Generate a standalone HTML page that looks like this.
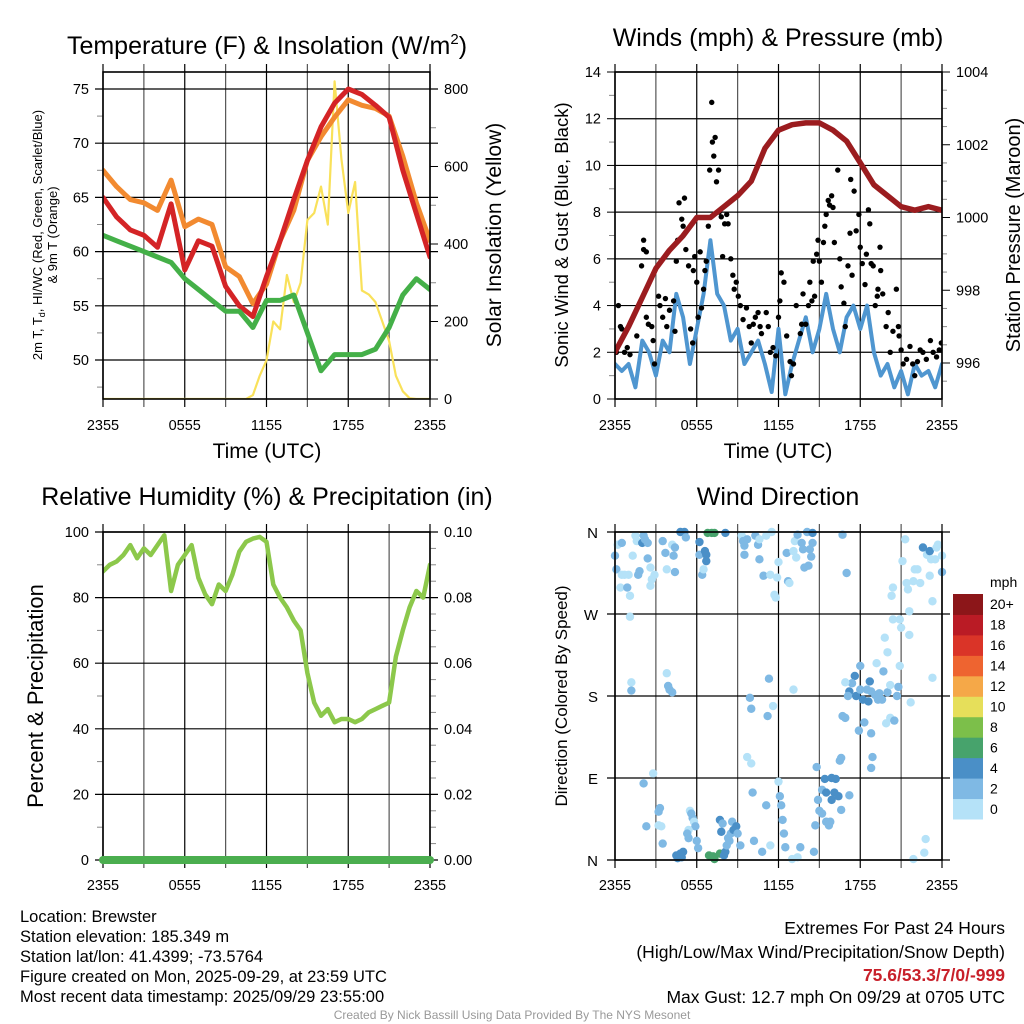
<!DOCTYPE html>
<html><head><meta charset="utf-8"><style>
html,body{margin:0;padding:0;background:#fff}
svg{display:block;font-family:"Liberation Sans",sans-serif}
</style></head><body>
<svg id="root" width="1024" height="1024" viewBox="0 0 1024 1024" xmlns="http://www.w3.org/2000/svg">
<rect width="1024" height="1024" fill="#fff"/>
<text x="267" y="54" font-size="25" text-anchor="middle">Temperature (F) &amp; Insolation (W/m<tspan font-size="15" dy="-10">2</tspan><tspan dy="10">)</tspan></text>
<text x="778" y="46" font-size="25" text-anchor="middle">Winds (mph) &amp; Pressure (mb)</text>
<text x="267" y="505" font-size="25" text-anchor="middle">Relative Humidity (%) &amp; Precipitation (in)</text>
<text x="778" y="505" font-size="25" text-anchor="middle">Wind Direction</text>
<g font-size="16.5">
<text x="20" y="922">Location: Brewster</text>
<text x="20" y="942">Station elevation: 185.349 m</text>
<text x="20" y="962">Station lat/lon: 41.4399; -73.5764</text>
<text x="20" y="982">Figure created on Mon, 2025-09-29, at 23:59 UTC</text>
<text x="20" y="1002">Most recent data timestamp: 2025/09/29 23:55:00</text>
</g>
<g font-size="17.5" text-anchor="end">
<text x="1005" y="934">Extremes For Past 24 Hours</text>
<text x="1005" y="958">(High/Low/Max Wind/Precipitation/Snow Depth)</text>
<text x="1005" y="981" fill="#c8202a" font-weight="bold">75.6/53.3/7/0/-999</text>
<text x="1005" y="1003">Max Gust: 12.7 mph On 09/29 at 0705 UTC</text>
</g>
<text x="512" y="1019" font-size="12" fill="#999" text-anchor="middle">Created By Nick Bassill Using Data Provided By The NYS Mesonet</text>
</svg>
<script>
// ---- data ----
const xTickLabels = ["2355","0555","1155","1755","2355"];
const tRed = [65,63.2,62,61.5,60.4,64.4,58.3,61,60.5,56.8,55,54,57.7,61,64.8,68.4,71.5,73.7,75,74.5,73.5,72.4,67.5,63.5,59.5];
const tOrange = [67.5,66,64.8,64.5,63.8,66.6,62.3,63,62.5,58.6,57.7,55.2,57,61,63.8,68.4,70.6,72.4,74,73.5,73.2,72.5,68.8,64.5,61];
const tGreen = [61.5,61,60.5,60,59.5,59,57.5,56.5,55.5,54.5,54.5,53,55.5,55.5,56,52.5,49,50.5,50.5,50.5,51,53,56,57.5,56.5];
const solar = [0,0,0,0,0,0,0,0,0,0,0,0,0,0,0,0,0,0,0,0,0,0,10,60,100,200,180,320,250,300,462,480,548,450,820,620,480,560,280,270,250,200,150,60,20,2,0,0,0];
const tempTicks = [50,55,60,65,70,75];
const solarTicks = [0,200,400,600,800];
const windBlue = [1.5,1.2,1.5,0.5,2.5,2,1,2.5,2,4.5,3.5,1.5,3,4.5,6.8,4.5,4,2.5,3,1.5,2,2.5,1.5,0.3,3,0.2,1.5,2.5,3.5,2,3,4.5,3,2,3.5,4,3,4,2,1,1.5,0.5,1.2,0.2,1.5,1,1.2,0.5,1.5];
const pressure = [996.3,997,997.8,998.6,999.1,999.5,1000,1000,1000.3,1000.6,1001,1001.9,1002.4,1002.55,1002.6,1002.6,1002.4,1002.1,1001.5,1000.9,1000.6,1000.3,1000.2,1000.3,1000.2];
const gustHour = [0.1,0.25,0.4,0.5,0.7,0.9,1.1,1.6,1.95,2.1,2.1,2.3,2.3,2.45,2.7,2.8,2.9,3.2,3.3,3.5,3.7,3.8,4,4.3,4.4,4.5,4.6,4.7,4.9,5,5.1,5.2,5.4,5.55,5.7,5.75,5.85,6,6.1,6.25,6.35,6.5,6.6,6.7,6.85,6.95,7.1,7.15,7.25,7.35,7.45,7.6,7.65,7.8,7.9,8.05,8.2,8.3,8.5,8.65,8.75,8.9,9.05,9.2,9.4,9.65,9.85,10,10.15,10.3,10.5,10.65,10.75,11.1,11.25,11.4,11.6,11.8,12,12.1,12.2,12.4,12.6,12.85,12.95,13.1,13.3,13.6,13.7,13.8,14,14.2,14.3,14.45,14.55,14.65,14.8,14.9,15,15.15,15.3,15.4,15.5,15.65,15.75,15.9,16,16.1,16.35,16.5,16.6,16.8,16.9,17.1,17.25,17.3,17.4,17.55,17.7,17.9,18,18.15,18.35,18.45,18.6,18.7,18.8,18.95,19.1,19.25,19.3,19.45,19.5,19.65,19.9,20.05,20.2,20.4,20.65,20.8,20.85,21,21.15,21.4,21.65,21.85,22,22.2,22.4,22.6,22.85,23.15,23.35,23.6,23.8,23.95];
const gustVal = [2,4,3.1,3,2,2.2,1.9,2.7,5.7,6.4,6.8,6.3,3.5,3.2,3.1,2.5,1.5,4.4,4,3.5,4.3,3.1,3.8,4.2,2.9,5.9,6.8,8.4,7.7,7.4,8.6,6.4,5.7,3,2.4,5.5,6.1,5,3.5,6.3,3.9,4.7,5.5,5.9,7.4,9.8,12.7,11,10.4,11.2,9.3,9.8,8,7.8,6.1,7.5,7.9,7.5,6,5.3,4.7,5,4.4,4,3.4,3.9,3.1,2.4,3.2,3.5,3.7,3.1,2.8,3.7,3.1,2,2.2,1.85,3.5,4.2,5.4,5,2.7,1.6,1,1.5,4,2.8,3.2,4.5,3.2,4,5,4.2,5.9,4.4,6.2,6.8,5.9,5,6.7,7.4,7.9,8.5,8.3,8.7,8.2,6.7,9.8,6,4.8,4.1,3.1,5.7,7.1,9.4,5.3,8.9,7.2,7.9,6.5,5.8,4.9,6.2,8.1,7.5,5.8,5.7,4,4.4,4.7,6.5,5.5,4.5,3.1,3.7,2,2.9,4.7,3.1,2.7,2.1,1.5,1.7,2.25,1.5,1,1.6,2.1,2,1.7,2.5,2,1.8,2.1,2.4];
const windTicks = [0,2,4,6,8,10,12,14];
const pressTicks = [996,998,1000,1002,1004];
const rh = [88,90,91,93,96,92,95,93,96,99,82,90,93,96,86,81,78,84,82,87,94,97,98,98.5,97,84,80,77,73,70,57,48,44,46,42,43,43,42,43,45,46,47,48,62,70,77,82,80,90];
const precip = [0,0,0,0,0,0,0,0,0,0,0,0,0,0,0,0,0,0,0,0,0,0,0,0,0];
const rhTicks = [0,20,40,60,80,100];
const precipTicks = ["0.00","0.02","0.04","0.06","0.08","0.10"];
const dirHour = [0,0.1,0.2,0.5,0.5,0.7,1,0.4,0.9,1.1,1.3,1.5,1.6,1.7,1.8,2,2.1,2.2,2.4,2.4,2.6,2.7,2.6,2.9,3.5,3.7,3.8,4.2,4.3,4.4,4.4,4.8,5.1,5.2,6.2,6.2,6.4,6.5,6.6,6.7,6.7,6.8,7.1,7.3,8.1,9.3,9.4,9.5,9.5,9.7,10.3,10.5,10.6,10.6,10.9,11.1,11.4,11.5,11.7,11.8,11.9,12,12.6,12.7,12.8,13.1,13.2,13.3,13.4,13.7,13.8,13.9,14.1,14.2,14.3,14.4,14.5,14.5,16.7,17,21.3,21.1,21.4,21.5,21.9,22,22.2,22.4,22.6,22.9,23.1,23.1,23.2,23.3,23.5,23.6,23.7,24,24,20.4,20.3,20.9,20.4,21,21.6,21.6,
1.1,1.2,1.2,3.8,3.9,4,4.2,11.3,9.9,10,11.6,13.1,11.2,19.8,20,19.7,19.2,18,17.6,17.4,16.9,17.2,17.1,17.7,18,18.2,18.5,18.7,18.6,18.8,19.1,19.3,19.4,19.6,20,20.2,20.7,20.8,20.9,21.7,23.3,16.7,16.9,18.3,18.8,17.9,18.9,18.8,19.9,20.2,20.5,
2.8,2.1,2.3,3.2,3.4,3.2,3.3,3.5,5.5,5.6,5.7,5.8,5.9,5.4,5.3,5.4,6,6.1,4.5,4.8,4.9,5,4.6,6.9,7.2,7.3,7.7,8,8.1,8.2,8.3,8.4,8.5,7.7,7.8,7.9,8.6,8.7,8.9,9,9.2,9.7,10,10.1,10.2,10.8,11.1,11.4,12,12.1,12.2,12.3,12.4,12.5,13,13.4,13.6,14.6,14.7,14.8,14.9,15,15.2,15.2,15.4,15.5,15.5,15.7,15.8,15.9,16.1,15.9,16.2,16.4,16.6,16.5,16.6,17.2,21.9,22.7,22.8];
const dirDeg = [334,319,346,348,313,313,313,299,299,290,334,356,350,313,317,348,356,352,348,331,321,308,301,313,350,337,319,346,334,343,316,360,360,354,349,335,313,319,339,335,328,359,359,359,359,356,350,345,335,352,356,346,352,330,312,356,313,360,291,288,310,327,337,306,304,339,350,332,357,348,341,321,360,323,341,333,348,359,357,315,352,328,304,297,306,319,319,304,343,335,339,312,330,284,330,343,346,316,334,299,290,264,264,255,273,247,
267,195,186,205,191,187,184,199,178,166,169,187,158,244,228,207,216,213,202,194,195,185,180,180,187,176,187,196,174,185,181,176,183,176,184,192,180,190,213,173,200,158,156,151,139,142,113,101,150,156,153,
95,84,37,38,37,53,57,18,54,51,46,42,37,33,29,24,21,13,5,7,3,9,2,5,4,1,7,5,9,16,24,21,29,44,31,40,42,33,37,29,16,113,106,74,21,9,60,16,86,70,60,44,29,14,1,3,14,9,38,102,66,54,51,77,89,74,42,38,42,90,74,66,89,70,55,109,112,71,1,8,23];
const dirSpeed = [3,3,1,3,1,1,1,1,3,1,1,1,1,3,3,5,3,3,3,3,1,1,1,1,3,3,1,1,3,3,3,5,5,3,5,3,3,1,5,5,5,7,7,7,5,1,3,3,3,3,3,3,1,3,3,1,1,1,1,1,1,1,3,3,1,1,1,1,3,3,3,3,3,3,3,3,3,5,3,3,1,1,1,1,1,1,1,1,5,1,5,1,1,1,1,1,1,3,1,1,1,1,1,1,1,1,
1,1,3,1,3,3,3,3,3,3,1,1,3,1,1,3,1,3,5,3,1,5,3,5,3,5,3,5,5,3,3,3,3,3,3,1,3,3,1,1,1,3,3,3,3,3,3,3,1,1,3,
1,3,3,1,1,3,3,3,1,3,3,1,3,1,3,3,3,3,5,5,5,5,5,7,7,7,7,5,5,3,3,3,3,5,5,3,3,5,5,3,3,1,1,3,3,3,3,1,1,3,3,3,3,3,1,1,3,3,3,3,3,3,3,3,5,5,3,3,3,5,5,5,5,5,3,3,3,3,1,1,1];
const speedBins = ["0","2","4","6","8","10","12","14","16","18","20+"];
const binColors = ["#b5e2f8","#7fb9e4","#4a8fc7","#47a36c","#7cbf4a","#e6df5a","#f5a848","#ee6430","#da3428","#ba1b25","#8c1619"];
const dirTicks = ["N","E","S","W","N"];

// ---- helpers ----
const NS="http://www.w3.org/2000/svg";
const root=document.getElementById('root');
function mk(tag,attrs,parent){const e=document.createElementNS(NS,tag);for(const k in attrs)e.setAttribute(k,attrs[k]);(parent||root).appendChild(e);return e;}
function lin(d0,d1,p0,p1){return v=>p0+(v-d0)/(d1-d0)*(p1-p0);}

function frame(L,R,T,B,name){
  const g=mk('g',{});
  
  
  return g;
}
function vgrid(g,L,R,T,B){
  for(let i=0;i<=8;i++){const x=L+(R-L)*i/8;
    const l=mk('line',{x1:x,x2:x,y1:T-8,y2:B+8,stroke:i%2?'#555':'#000','stroke-width':1.2},g);
    
    }
}
function hline(g,y,L,R,ext){const l=mk('line',{x1:L-ext,x2:R+ext,y1:y,y2:y,stroke:'#000','stroke-width':1.2},g);
  
  }
function border(g,L,R,T,B){const r=mk('rect',{x:L,y:T,width:R-L,height:B-T,fill:'none',stroke:'#000','stroke-width':1.6},g);
  
  }
function xlabels(g,L,R,y){xTickLabels.forEach((t,i)=>{const tx=mk('text',{x:L+(R-L)*i/4,y:y,'font-size':14.5,'text-anchor':'middle'},g);tx.textContent=t;
  
  });}
function text(g,x,y,s,t,name,extra){const a=Object.assign({x:x,y:y,'font-size':s,'text-anchor':'middle'},extra||{});const e=mk('text',a,g);e.textContent=t;
  
  return e;}
function path(g,xs,ys,arr,color,w,name,step){
  let d='';arr.forEach((v,i)=>{d+=(i?'L':'M')+xs(i*step).toFixed(1)+','+ys(v).toFixed(1);});
  const p=mk('path',{d:d,fill:'none',stroke:color,'stroke-width':w,'stroke-linejoin':'round','stroke-linecap':'round'},g);
  
  return p;}
function minor(g,x,ys,vals,dir,len){vals.forEach(v=>{mk('line',{x1:x,x2:x+dir*len,y1:ys(v),y2:ys(v),stroke:'#888','stroke-width':1},g);});}

// ---- Panel 1: temperature ----
(function(){
 const L=103,R=430,T=72,B=399;
 const g=frame(L,R,T,B,'temperature');
 const xs=lin(0,24,L,R), ys=lin(50,75,360,89), ys2=lin(0,800,399,89);
 const clip=mk('clipPath',{id:'c1'});mk('rect',{x:L,y:T,width:R-L,height:B-T},clip);
 vgrid(g,L,R,T,B);
 tempTicks.forEach(v=>{hline(g,ys(v),L,R,8);text(g,L-14,ys(v)+5,14.5,String(v),'temp-tick-label',{'text-anchor':'end'});});
 solarTicks.forEach(v=>{mk('line',{x1:R,x2:R+8,y1:ys2(v),y2:ys2(v),stroke:'#000'},g);text(g,R+14,ys2(v)+5,14.5,String(v),'solar-tick-label',{'text-anchor':'start'});});
 minor(g,L,ys,[47.5,52.5,57.5,62.5,67.5,72.5],-1,6);
 minor(g,R,ys2,[100,300,500,700],1,6);
 const pg=mk('g',{'clip-path':'url(#c1)'},g);
 path(pg,xs,ys2,solar,'#f9e15a',2.2,'solar-insolation-line',0.5);
 path(pg,xs,ys,tOrange,'#f28a30',5,'9m-temperature-line',1);
 path(pg,xs,ys,tRed,'#d42426',5,'2m-temperature-line',1);
 path(pg,xs,ys,tGreen,'#44b048',5,'dewpoint-line',1);
 border(g,L,R,T,B);
 xlabels(g,L,R,430);
 text(g,267,458,21,'Time (UTC)','x-axis-title');
 const t1=text(g,0,0,13,'','temp-y-axis-title',{transform:'translate(42,235) rotate(-90)'});
 t1.innerHTML='2m T, T<tspan font-size="9" dy="3">d</tspan><tspan dy="-3">, HI/WC (Red, Green, Scarlet/Blue)</tspan>';
 text(g,0,0,13,'& 9m T (Orange)','temp-y-axis-title-line2',{transform:'translate(57,235) rotate(-90)'});
 text(g,0,0,21,'Solar Insolation (Yellow)','solar-y-axis-title',{transform:'translate(501,235) rotate(-90)'});
})();

// ---- Panel 2: winds & pressure ----
(function(){
 const L=615,R=942,T=72,B=399;
 const g=frame(L,R,T,B,'winds');
 const xs=lin(0,24,L,R), ys=lin(0,14,399,72), ys2=lin(996,1004,363,72);
 const clip=mk('clipPath',{id:'c2'});mk('rect',{x:L,y:T,width:R-L,height:B-T},clip);
 vgrid(g,L,R,T,B);
 windTicks.forEach(v=>{hline(g,ys(v),L,R,0);mk('line',{x1:L-8,x2:L,y1:ys(v),y2:ys(v),stroke:'#000'},g);text(g,L-14,ys(v)+5,14.5,String(v),'wind-tick-label',{'text-anchor':'end'});});
 pressTicks.forEach(v=>{mk('line',{x1:R,x2:R+8,y1:ys2(v),y2:ys2(v),stroke:'#000'},g);text(g,R+14,ys2(v)+5,14.5,String(v),'pressure-tick-label',{'text-anchor':'start'});});
 minor(g,L,ys,[1,3,5,7,9,11,13],-1,6);
 minor(g,R,ys2,[995.5,996.5,997,997.5,998.5,999,999.5,1000.5,1001,1001.5,1002.5,1003,1003.5],1,5);
 const pg=mk('g',{'clip-path':'url(#c2)'},g);
 path(pg,xs,ys,windBlue,'#4f96d0',4,'sonic-wind-line',0.5);
 gustHour.forEach((h,i)=>{const c=mk('circle',{cx:xs(h),cy:ys(gustVal[i]),r:2.7,fill:'#000'},pg);
   
   });
 path(pg,xs,ys2,pressure,'#9b1c1f',5.5,'pressure-line',1);
 border(g,L,R,T,B);
 xlabels(g,L,R,430);
 text(g,778,458,21,'Time (UTC)','x-axis-title');
 text(g,0,0,18.5,'Sonic Wind & Gust (Blue, Black)','wind-y-axis-title',{transform:'translate(568,235) rotate(-90)'});
 text(g,0,0,20,'Station Pressure (Maroon)','pressure-y-axis-title',{transform:'translate(1020,235) rotate(-90)'});
})();

// ---- Panel 3: RH & precip ----
(function(){
 const L=103,R=430,T=532,B=860;
 const g=frame(L,R,T,B,'humidity');
 const xs=lin(0,24,L,R), ys=lin(0,100,860,532);
 const clip=mk('clipPath',{id:'c3'});mk('rect',{x:L,y:T,width:R-L,height:B-T},clip);
 vgrid(g,L,R,T,B);
 rhTicks.forEach((v,i)=>{hline(g,ys(v),L,R,8);text(g,L-14,ys(v)+5,14.5,String(v),'rh-tick-label',{'text-anchor':'end'});text(g,R+14,ys(v)+5,14.5,precipTicks[i],'precip-tick-label',{'text-anchor':'start'});});
 minor(g,L,ys,[10,30,50,70,90],-1,6);
 minor(g,R,ys,[5,10,15,25,30,35,45,50,55,65,70,75,85,90,95],1,6);
 const pg=mk('g',{'clip-path':'url(#c3)'},g);
 path(pg,xs,ys,rh,'#8cc84b',4.5,'relative-humidity-line',0.5);
 border(g,L,R,T,B);
 path(g,xs,v=>ys(v*1000),precip,'#4bae4f',8,'precipitation-line',1);
 xlabels(g,L,R,890);
 text(g,0,0,22,'Percent & Precipitation','rh-y-axis-title',{transform:'translate(43,696) rotate(-90)'});
})();

// ---- Panel 4: wind direction ----
(function(){
 const L=615,R=942,T=532,B=860;
 const g=frame(L,R,T,B,'wind-direction');
 const xs=lin(0,24,L,R), ys=lin(0,360,860,532);
 vgrid(g,L,R,T,B);
 dirTicks.forEach((t,i)=>{hline(g,ys(i*90),L,R,8);text(g,L-17,ys(i*90)+6,15,t,'direction-tick-label',{'text-anchor':'end'});});
 const pg=mk('g',{},g);
 dirHour.forEach((h,i)=>{const bin=Math.min(10,Math.floor(dirSpeed[i]/2));
   const c=mk('circle',{cx:xs(h),cy:ys(dirDeg[i]),r:4.2,fill:binColors[bin]},pg);
   
   });
 border(g,L,R,T,B);
 xlabels(g,L,R,890);
 text(g,0,0,17,'Direction (Colored By Speed)','direction-y-axis-title',{transform:'translate(567,696) rotate(-90)'});
 // colorbar
 const cb=mk('g',{},g);
 
 
 const cbT=594,cbB=819,h=(cbB-cbT)/speedBins.length;
 speedBins.forEach((lab,i)=>{const y=cbB-(i+1)*h;
   const r=mk('rect',{x:953,y:y,width:30,height:h+0.5,fill:binColors[i]},cb);
   
   
   text(cb,990,y+h/2+5,14,lab,'colorbar-label',{'text-anchor':'start'});});
 text(cb,990,587,14,'mph','colorbar-unit',{'text-anchor':'start'});
})();
</script>
</body></html>
